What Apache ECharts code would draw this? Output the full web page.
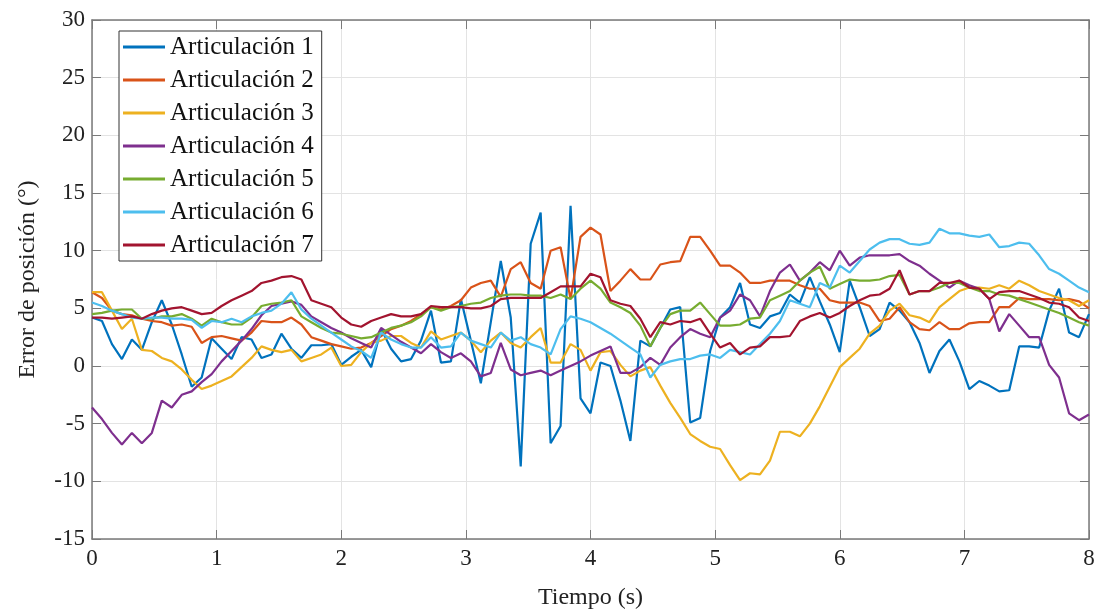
<!DOCTYPE html>
<html>
<head>
<meta charset="utf-8">
<script src="https://cdn.jsdelivr.net/npm/echarts@6/dist/echarts.min.js"></script>
<style>
  html, body { margin: 0; padding: 0; background: #fff; }
  #chart { width: 1103px; height: 615px; }
</style>
</head>
<body>
<div id="chart"></div>
<script>
// muestreo: 101 puntos cada 0.08 s
const dt = 0.08
const tiempo = Array.from({ length: 101 }, (_, i) => +(i * dt).toFixed(2))

const nombres = [
  'Articulación 1', 'Articulación 2', 'Articulación 3', 'Articulación 4',
  'Articulación 5', 'Articulación 6', 'Articulación 7',
]
const colores = ['#0072BD', '#D95319', '#EDB120', '#7E2F8E', '#77AC30', '#4DBEEE', '#A2142F']

const art1 = [
  4.2, 3.9, 1.9, 0.6, 2.3, 1.4, 3.8, 5.7, 3.6, 1.0, -1.8, -1.0, 2.4, 1.5, 0.6, 2.5, 2.3, 0.7, 1.0, 2.8,
  1.5, 0.7, 1.8, 1.8, 1.9, 0.1, 0.8, 1.4, -0.1, 3.2, 1.5, 0.4, 0.6, 2.2, 4.8, 0.3, 0.4, 5.8, 2.2, -1.5,
  3.8, 9.1, 4.2, -8.7, 10.6, 13.3, -6.7, -5.2, 13.9, -2.8, -4.1, 0.3, 0.0, -3.0, -6.5, 2.2, 1.7, 3.3, 4.9, 5.1,
  -4.9, -4.5, 1.3, 4.2, 5.1, 7.2, 3.6, 3.3, 4.3, 4.6, 6.2, 5.5, 7.7, 5.6, 3.6, 1.2, 7.4, 5.1, 2.6, 3.2,
  5.5, 4.8, 3.8, 2.0, -0.6, 1.3, 2.3, 0.4, -2.0, -1.3, -1.7, -2.2, -2.1, 1.7, 1.7, 1.6, 4.8, 6.7, 2.9, 2.5,
  4.5,
]
const art2 = [
  6.4, 5.9, 4.8, 4.5, 4.4, 4.1, 3.9, 3.8, 3.5, 3.6, 3.4, 2.0, 2.5, 2.6, 2.4, 2.2, 2.9, 3.9, 3.8, 3.8,
  4.2, 3.6, 2.5, 2.2, 1.9, 1.7, 1.5, 1.6, 2.0, 2.6, 3.2, 3.5, 3.9, 4.5, 5.1, 4.9, 5.2, 5.7, 6.8, 7.2,
  7.4, 6.0, 8.4, 9.0, 7.2, 6.7, 10.0, 10.3, 5.8, 11.2, 12.0, 11.4, 6.5, 7.4, 8.4, 7.5, 7.5, 8.8, 9.0, 9.1,
  11.2, 11.2, 10.0, 8.7, 8.7, 8.1, 7.2, 7.2, 7.4, 7.4, 7.4, 7.0, 6.7, 6.7, 5.7, 5.5, 5.5, 5.5, 5.2, 3.9,
  4.1, 5.1, 3.8, 3.2, 3.1, 3.8, 3.2, 3.2, 3.7, 3.8, 3.8, 5.1, 5.1, 5.9, 5.8, 5.8, 5.8, 5.7, 5.8, 5.6,
  5.0,
]
const art3 = [
  6.4, 6.4, 4.8, 3.2, 4.1, 1.4, 1.3, 0.7, 0.4, -0.3, -1.2, -2.0, -1.7, -1.3, -0.9, -0.1, 0.7, 1.7, 1.4, 1.2,
  1.4, 0.4, 0.7, 1.0, 1.6, 0.0, 0.1, 1.2, 2.0, 2.2, 2.6, 2.6, 2.0, 1.6, 3.0, 2.3, 2.6, 2.9, 2.2, 1.2,
  2.2, 2.9, 2.0, 1.6, 2.5, 3.3, 0.3, 0.3, 1.9, 1.4, -0.4, 1.2, 1.3, 0.1, -0.9, -0.4, -0.1, -1.7, -3.2, -4.5,
  -5.9, -6.5, -7.0, -7.2, -8.6, -9.9, -9.3, -9.4, -8.2, -5.7, -5.7, -6.1, -5.0, -3.5, -1.8, -0.1, 0.7, 1.5, 2.8, 3.5,
  4.8, 5.4, 4.4, 4.2, 3.8, 5.1, 5.8, 6.5, 6.8, 6.8, 6.7, 7.0, 6.7, 7.4, 7.0, 6.5, 6.2, 5.9, 5.7, 5.2,
  5.7,
]
const art4 = [
  -3.6, -4.6, -5.8, -6.8, -5.8, -6.7, -5.8, -3.0, -3.6, -2.5, -2.2, -1.4, -0.7, 0.4, 1.3, 2.2, 3.2, 4.4, 5.2, 5.4,
  5.6, 5.3, 4.3, 3.8, 3.3, 2.9, 2.4, 2.0, 1.6, 3.3, 2.7, 2.1, 1.6, 1.1, 1.9, 1.2, 0.7, 1.1, 0.4, -0.9,
  -0.6, 2.0, -0.3, -0.8, -0.6, -0.4, -0.8, -0.4, 0.0, 0.4, 0.9, 1.3, 1.7, -0.6, -0.6, -0.1, 0.7, 0.1, 1.6, 2.5,
  3.2, 2.8, 2.5, 4.2, 4.8, 6.2, 5.7, 4.3, 6.5, 8.1, 8.8, 7.4, 8.1, 9.0, 8.3, 10.0, 8.7, 9.4, 9.6, 9.6,
  9.6, 9.7, 9.1, 8.7, 8.0, 7.4, 6.8, 7.4, 7.0, 6.7, 5.8, 3.0, 4.5, 3.5, 2.5, 2.5, 0.1, -1.0, -4.1, -4.7,
  -4.2,
]
const art5 = [
  4.5, 4.6, 4.8, 4.9, 4.9, 4.1, 4.1, 4.3, 4.3, 4.5, 4.1, 3.5, 4.1, 3.8, 3.6, 3.6, 4.2, 5.2, 5.4, 5.5,
  5.7, 4.3, 3.8, 3.3, 2.9, 2.8, 2.6, 2.4, 2.5, 2.9, 3.3, 3.5, 3.8, 4.3, 5.1, 4.8, 5.1, 5.2, 5.4, 5.5,
  5.9, 6.1, 6.2, 6.2, 6.1, 6.1, 5.9, 6.2, 5.8, 6.7, 7.4, 6.7, 5.5, 5.1, 4.6, 3.5, 1.7, 3.3, 4.5, 4.8,
  4.8, 5.5, 4.5, 3.5, 3.5, 3.6, 4.1, 4.2, 5.7, 6.1, 6.5, 7.4, 8.1, 8.6, 6.7, 7.1, 7.5, 7.4, 7.4, 7.5,
  7.8, 7.9, 6.2, 6.5, 6.5, 6.8, 7.2, 7.2, 6.8, 6.5, 6.5, 6.2, 6.1, 5.8, 5.5, 5.2, 4.9, 4.6, 4.2, 3.8,
  3.5,
]
const art6 = [
  5.5, 5.2, 4.8, 4.5, 4.2, 4.1, 4.2, 4.2, 4.1, 4.1, 4.0, 3.3, 3.9, 3.8, 4.1, 3.8, 4.3, 4.6, 4.8, 5.4,
  6.4, 4.9, 4.1, 3.5, 2.9, 2.3, 1.7, 1.3, 0.7, 2.9, 2.3, 1.9, 1.6, 1.6, 2.5, 1.6, 1.7, 2.9, 2.2, 1.9,
  1.6, 2.9, 2.2, 2.5, 1.9, 1.6, 1.0, 3.2, 4.3, 4.1, 3.8, 3.3, 2.8, 2.2, 1.6, 1.0, -1.0, 0.1, 0.4, 0.6,
  0.6, 0.9, 1.0, 0.7, 1.4, 1.2, 1.0, 1.9, 2.8, 3.9, 5.7, 5.4, 5.1, 7.2, 6.8, 8.7, 8.1, 9.1, 10.1, 10.7,
  11.0, 11.0, 10.6, 10.5, 10.7, 11.9, 11.5, 11.5, 11.3, 11.2, 11.4, 10.3, 10.4, 10.7, 10.6, 9.6, 8.4, 8.0, 7.4, 6.8,
  6.4,
]
const art7 = [
  4.2, 4.2, 4.1, 4.2, 4.3, 4.1, 4.5, 4.8, 5.0, 5.1, 4.8, 4.5, 4.6, 5.2, 5.7, 6.1, 6.5, 7.2, 7.4, 7.7,
  7.8, 7.5, 5.7, 5.4, 5.1, 4.2, 3.6, 3.4, 3.9, 4.2, 4.5, 4.3, 4.3, 4.5, 5.2, 5.1, 5.1, 5.1, 5.0, 5.0,
  5.2, 5.8, 5.9, 5.9, 5.9, 5.9, 6.4, 6.9, 6.9, 6.9, 8.0, 7.7, 5.7, 5.4, 5.2, 4.1, 2.5, 3.8, 3.6, 3.9,
  3.8, 4.1, 2.8, 1.6, 2.0, 1.0, 1.6, 1.7, 2.5, 2.5, 2.6, 3.9, 4.3, 4.6, 4.2, 4.6, 5.2, 5.7, 6.1, 6.2,
  6.7, 8.3, 6.2, 6.5, 6.5, 7.2, 7.2, 7.4, 6.8, 6.7, 5.8, 6.4, 6.5, 6.5, 6.2, 5.9, 5.5, 5.4, 5.1, 4.2,
  3.9,
]
const valores = [art1, art2, art3, art4, art5, art6, art7]

const xTicks = { min: 0, max: 8, interval: 1 }
const yTicks = { min: -15, max: 30, interval: 5 }

const FONT = '"Liberation Serif", "DejaVu Serif", serif'
const AXIS_GRAY = '#7a7a7a'
const GRID_GRAY = '#e3e3e3'

const chart = echarts.init(document.getElementById('chart'), undefined, { renderer: 'canvas' })

const baseTick = { show: true, inside: true, length: 9, lineStyle: { color: AXIS_GRAY, width: 1 } }
const baseLine = { show: true, onZero: false, lineStyle: { color: AXIS_GRAY, width: 1.5 } }

chart.setOption({
  backgroundColor: '#fff',
  animation: false,
  textStyle: { fontFamily: FONT },
  grid: { left: 92, right: 14, top: 20, bottom: 76, containLabel: false },
  legend: {
    orient: 'vertical',
    left: 119,
    top: 31,
    icon: 'rect',
    itemWidth: 42,
    itemHeight: 3,
    itemGap: 7,
    padding: [3, 8, 3, 4],
    backgroundColor: '#fff',
    borderColor: '#333',
    borderWidth: 1,
    borderRadius: 0,
    textStyle: { fontFamily: FONT, fontSize: 25, color: '#111', lineHeight: 26 },
    data: nombres,
  },
  xAxis: [
    {
      type: 'value', ...xTicks, position: 'bottom',
      name: 'Tiempo (s)', nameLocation: 'middle', nameGap: 47,
      nameTextStyle: { fontFamily: FONT, fontSize: 24, color: '#222' },
      axisLine: baseLine, axisTick: baseTick,
      axisLabel: { fontFamily: FONT, fontSize: 23, color: '#222', margin: 8 },
      splitLine: { show: true, lineStyle: { color: GRID_GRAY, width: 1 } },
    },
    {
      type: 'value', ...xTicks, position: 'top',
      axisLine: baseLine, axisTick: baseTick,
      axisLabel: { show: false }, splitLine: { show: false },
    },
  ],
  yAxis: [
    {
      type: 'value', ...yTicks, position: 'left',
      name: 'Error de posición (°)', nameLocation: 'middle', nameGap: 52,
      nameTextStyle: { fontFamily: FONT, fontSize: 24, color: '#222' },
      axisLine: baseLine, axisTick: baseTick,
      axisLabel: { fontFamily: FONT, fontSize: 23, color: '#222', margin: 7 },
      splitLine: { show: true, lineStyle: { color: GRID_GRAY, width: 1 } },
    },
    {
      type: 'value', ...yTicks, position: 'right',
      axisLine: baseLine, axisTick: baseTick,
      axisLabel: { show: false }, splitLine: { show: false },
    },
  ],
  series: valores.map((serie, k) => ({
    name: nombres[k],
    type: 'line',
    xAxisIndex: 0,
    yAxisIndex: 0,
    data: serie.map((v, i) => [tiempo[i], v]),
    symbol: 'none',
    lineStyle: { width: 2.2, color: colores[k] },
    itemStyle: { color: colores[k] },
    z: 2 + k,
  })),
})
</script>
</body>
</html>
